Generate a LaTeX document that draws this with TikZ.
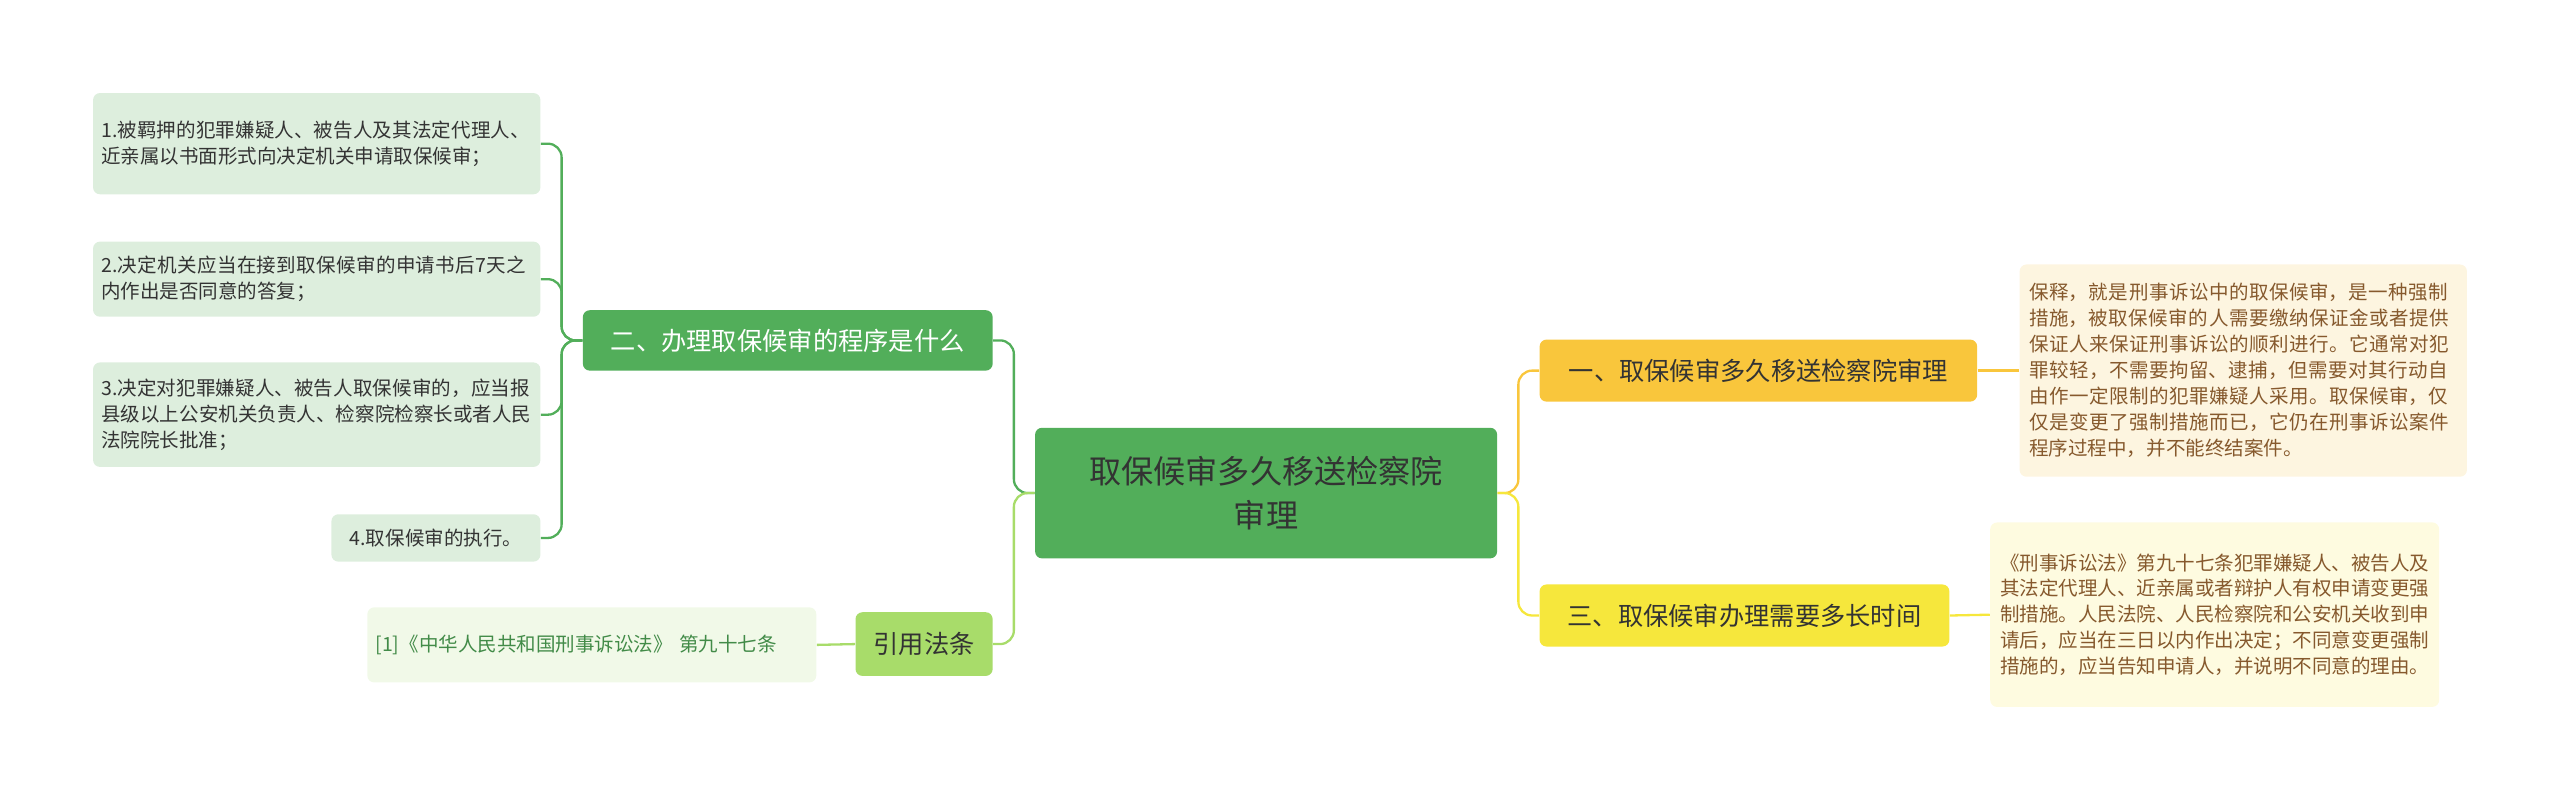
\documentclass[tikz,border=0pt]{standalone}
\usepackage{fontspec}
\setmainfont{Noto Sans CJK SC}
\XeTeXlinebreaklocale "zh"
\XeTeXlinebreakskip=0pt plus 1pt
\usetikzlibrary{positioning}
\definecolor{grnA}{HTML}{52AE5A}
\definecolor{grnB}{HTML}{A8DC6A}
\definecolor{leafG}{HTML}{DDEEDD}
\definecolor{leafL}{HTML}{F1F9E8}
\definecolor{orgA}{HTML}{F9C63C}
\definecolor{ylwA}{HTML}{F6E73C}
\definecolor{leafO}{HTML}{FDF5E0}
\definecolor{leafY}{HTML}{FEFBE0}
\definecolor{txtD}{HTML}{333333}
\tikzset{
  box/.style={rounded corners=3pt, inner sep=0pt, align=left, text=txtD},
  leaf/.style={box, font=\fontsize{8.5}{11.3}\selectfont},
  branch/.style={box, align=center, font=\fontsize{11}{13}\selectfont},
  link/.style={rounded corners=6pt, line width=1pt}
}
\begin{document}
\begin{tikzpicture}[x=0.025cm,y=-0.025cm]
\useasboundingbox (0,0) rectangle (1568,491);
% center
\node (root) [box, fill=grnA, minimum width=283*0.025cm, minimum height=80*0.025cm, align=center,
  font=\fontsize{14}{19}\selectfont] at (775.5,302) {取保候审多久移送检察院\\审理};
% left side
\node (proc) [branch, fill=grnA, text=white, minimum width=251*0.025cm, minimum height=37*0.025cm] at (482.5,208.5) {二、办理取保候审的程序是什么};
\node (law) [branch, fill=grnB, minimum width=84*0.025cm, minimum height=39*0.025cm] at (566,394.5) {引用法条};
\node (p1) [leaf, fill=leafG, minimum width=274*0.025cm, minimum height=62*0.025cm, text width=264*0.025cm] at (194,88) {1.被羁押的犯罪嫌疑人、被告人及其法定代理人、近亲属以书面形式向决定机关申请取保候审；};
\node (p2) [leaf, fill=leafG, minimum width=274*0.025cm, minimum height=46*0.025cm, text width=264*0.025cm] at (194,171) {2.决定机关应当在接到取保候审的申请书后7天之内作出是否同意的答复；};
\node (p3) [leaf, fill=leafG, minimum width=274*0.025cm, minimum height=64*0.025cm, text width=264*0.025cm] at (194,254) {3.决定对犯罪嫌疑人、被告人取保候审的，应当报县级以上公安机关负责人、检察院检察长或者人民法院院长批准；};
\node (p4) [leaf, fill=leafG, minimum width=128*0.025cm, minimum height=29*0.025cm, align=center] at (267,329.5) {4.取保候审的执行。};
\node (l1) [leaf, fill=leafL, text=grnA!80!black, minimum width=275*0.025cm, minimum height=46*0.025cm, text width=265*0.025cm] at (362.5,395) {[1]《中华人民共和国刑事诉讼法》 第九十七条};
% right side
\node (time) [branch, fill=orgA, minimum width=268*0.025cm, minimum height=38*0.025cm] at (1077,227) {一、取保候审多久移送检察院审理};
\node (dur) [branch, fill=ylwA, minimum width=251*0.025cm, minimum height=38*0.025cm] at (1068.5,377) {三、取保候审办理需要多长时间};
\node (t1) [leaf, fill=leafO, text=brown!70!black, minimum width=274*0.025cm, minimum height=130*0.025cm, text width=262*0.025cm] at (1374,227) {保释，就是刑事诉讼中的取保候审，是一种强制措施，被取保候审的人需要缴纳保证金或者提供保证人来保证刑事诉讼的顺利进行。它通常对犯罪较轻，不需要拘留、逮捕，但需要对其行动自由作一定限制的犯罪嫌疑人采用。取保候审，仅仅是变更了强制措施而已，它仍在刑事诉讼案件程序过程中，并不能终结案件。};
\node (d1) [leaf, fill=leafY, text=brown!70!black, minimum width=275*0.025cm, minimum height=113*0.025cm, text width=263*0.025cm] at (1356.5,376.5) {《刑事诉讼法》第九十七条犯罪嫌疑人、被告人及其法定代理人、近亲属或者辩护人有权申请变更强制措施。人民法院、人民检察院和公安机关收到申请后，应当在三日以内作出决定；不同意变更强制措施的，应当告知申请人，并说明不同意的理由。};

\draw [link, grnA] (root.west) -- (621,302) |- (proc.east);
\draw [link, grnB] (root.west) -- (621,302) |- (law.east);
\draw [link, grnA] (proc.west) -- (344,208.5) |- (p1.east);
\draw [link, grnA] (proc.west) -- (344,208.5) |- (p2.east);
\draw [link, grnA] (proc.west) -- (344,208.5) |- (p3.east);
\draw [link, grnA] (proc.west) -- (344,208.5) |- (p4.east);
\draw [link, grnB] (law.west) -- (l1.east);
\draw [link, orgA] (root.east) -- (930,302) |- (time.west);
\draw [link, ylwA] (root.east) -- (930,302) |- (dur.west);
\draw [link, orgA] (time.east) -- (t1.west);
\draw [link, ylwA] (dur.east) -- (d1.west);
\end{tikzpicture}
\end{document}
